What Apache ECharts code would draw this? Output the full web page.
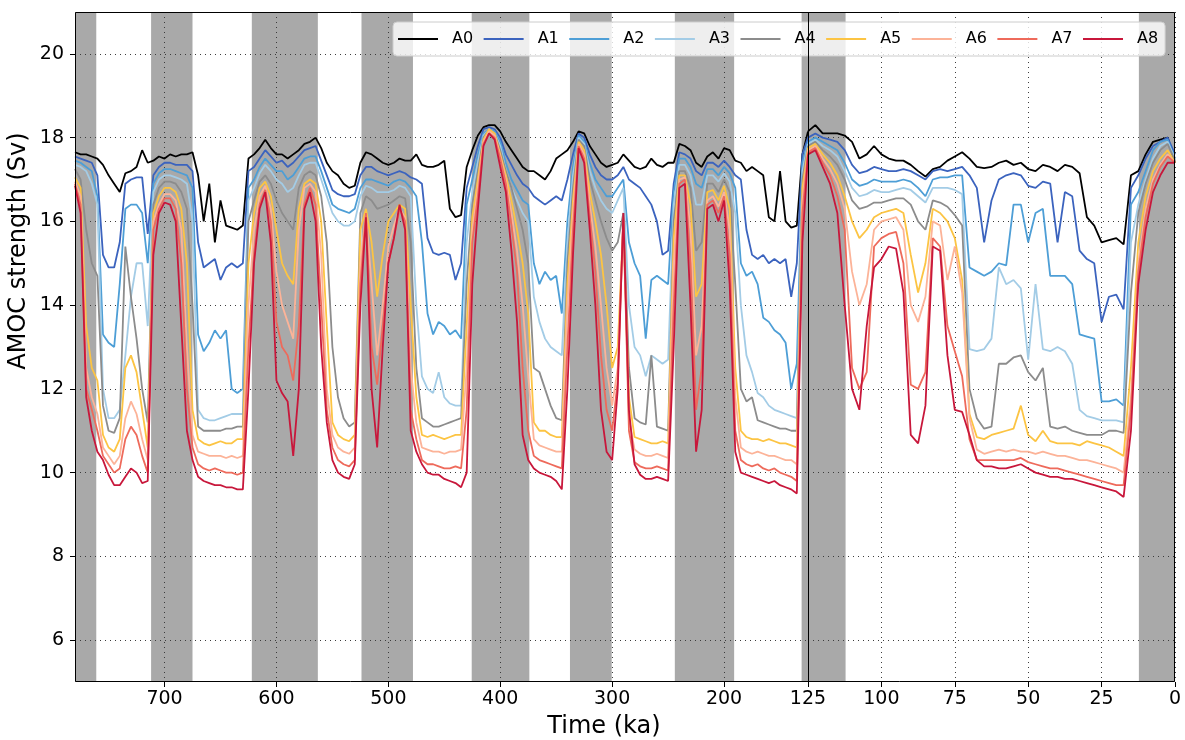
<!DOCTYPE html>
<html>
<head>
<meta charset="utf-8">
<script src="https://cdn.jsdelivr.net/npm/echarts@6/dist/echarts.min.js"></script>
<style>html,body{margin:0;padding:0;background:#fff}#c{width:1185px;height:740px}</style>
</head>
<body>
<div id="c"></div>
<script>
const seriesNames = ['A0','A1','A2','A3','A4','A5','A6','A7','A8'];
const seriesColors = ['#000000','#3b63be','#4d9ed6','#a3cce6','#8c8c8c','#fcc443','#fcb398','#ee6a5b','#c8173b'];

const leftTicks = [200,300,400,500,600,700];
const rightTicks = [0,25,50,75,100,125];
const yTicks = [6,8,10,12,14,16,18,20];

// grey bands (ka)
const leftBands = [[780,761],[712,675],[622,563],[524,478],[425.5,374],[337.7,300.4],[244,191],[130.7,125]];
const rightBands = [[125,112.2],[12.3,0]];

// time samples, 780 -> 125 ka (left, compressed part)
const leftTime = [780,775,770,765,760,755,750,745,740,735,730,725,720,715,
710,705,700,695,690,685,680,675,
670,665,660,655,650,645,640,635,630,625,
620,615,610,605,600,595,590,585,580,575,570,565,560,
555,550,545,540,535,530,525,
520,515,510,505,500,495,490,485,480,
475,470,465,460,455,450,445,440,435,430,
425,420,415,410,405,400,395,390,385,380,375,
370,365,360,355,350,345,340,
335,330,325,320,315,310,305,300,
295,290,285,280,275,270,265,260,255,250,
245,240,235,230,225,220,215,210,205,200,195,190,
185,180,175,170,165,160,155,150,145,140,135,130,
125];

// time samples, 125 -> 0 ka (right, expanded part)
const rightTime = [125,122.5,120,117.5,115,112.5,110,107.5,105,102.5,100,97.5,95,92.5,
90,87.5,85,82.5,80,77.5,75,72.5,70,67.5,65,62.5,60,57.5,55,52.5,50,47.5,45,42.5,40,
37.5,35,32.5,30,27.5,25,22.5,20,17.5,15,12.5,10,7.5,5,2.5,0];

const A0_left = [17.65,17.6,17.6,17.55,17.5,17.35,17.1,16.9,16.7,17.15,17.2,17.3,17.7,17.4,
17.45,17.55,17.5,17.6,17.55,17.6,17.6,17.65,
17.1,16.0,16.9,15.5,16.5,15.9,15.85,15.8,15.9,17.5,
17.6,17.75,17.95,17.75,17.6,17.6,17.5,17.6,17.7,17.85,17.9,18.0,17.75,
17.4,17.2,17.1,16.9,16.8,16.85,17.4,
17.65,17.6,17.5,17.4,17.35,17.4,17.5,17.45,17.45,
17.6,17.35,17.3,17.3,17.35,17.45,16.3,16.1,16.15,17.3,
17.7,18.05,18.25,18.3,18.3,18.15,17.9,17.7,17.5,17.3,17.2,
17.2,17.1,17.0,17.2,17.5,17.6,17.7,
17.9,18.15,18.1,17.8,17.6,17.4,17.3,17.35,
17.4,17.6,17.45,17.3,17.25,17.3,17.5,17.35,17.3,17.4,
17.4,17.85,17.8,17.7,17.4,17.3,17.55,17.65,17.5,17.75,17.7,17.45,
17.4,17.2,17.3,17.2,17.1,16.1,16.0,17.2,16.0,15.85,15.9,17.6,
18.15];
const A1_left = [17.55,17.5,17.45,17.4,17.1,15.2,14.9,14.9,15.5,16.9,17.0,17.05,17.05,15.7,
17.1,17.3,17.4,17.4,17.35,17.35,17.35,17.2,
15.5,14.9,15.0,15.1,14.6,14.9,15.0,14.9,15.0,17.2,
17.3,17.5,17.7,17.55,17.4,17.45,17.3,17.4,17.55,17.7,17.75,17.8,17.45,
17.1,16.75,16.65,16.6,16.6,16.65,17.1,
17.3,17.3,17.2,17.15,17.1,17.15,17.2,17.15,17.05,
17.0,16.9,15.6,15.25,15.2,15.25,15.2,14.6,15.0,16.8,
17.3,17.8,18.2,18.25,18.2,18.0,17.6,17.35,17.1,16.9,16.8,
16.6,16.5,16.4,16.5,16.6,16.5,17.0,
17.6,18.1,18.0,17.6,17.3,17.1,17.0,17.0,
17.1,17.3,17.0,16.9,16.8,16.6,16.4,16.0,15.2,15.3,
16.9,17.65,17.6,17.5,17.2,17.1,17.4,17.4,17.3,17.45,17.3,17.1,
17.0,15.8,15.2,15.1,15.2,15.0,15.1,15.0,15.1,14.2,15.0,17.6,
18.0];
const A2_left = [17.45,17.4,17.3,17.2,16.6,13.3,13.1,13.0,14.5,16.3,16.4,16.4,16.2,15.0,
16.9,17.15,17.25,17.25,17.2,17.15,17.1,16.8,
13.3,12.9,13.1,13.4,13.2,13.4,12.0,11.9,12.0,16.8,
17.0,17.3,17.5,17.35,17.2,17.2,17.0,17.1,17.3,17.5,17.55,17.55,17.2,
16.8,16.4,16.3,16.25,16.2,16.3,16.8,
17.0,17.0,16.95,16.9,16.85,16.95,17.0,16.95,16.8,
16.6,15.5,13.8,13.3,13.6,13.5,13.3,13.4,13.2,16.4,
17.0,17.6,18.1,18.2,18.15,17.9,17.4,17.0,16.75,16.5,16.4,
15.0,14.5,14.8,14.6,14.7,13.8,16.0,
17.3,18.05,17.9,17.4,17.0,16.8,16.6,16.6,
16.8,17.0,15.5,15.0,14.7,13.2,14.6,14.7,14.6,14.5,
16.7,17.5,17.5,17.3,16.9,16.8,17.25,17.25,17.1,17.3,17.15,16.8,
15.0,14.7,14.8,14.5,13.7,13.6,13.4,13.3,13.1,12.0,12.6,17.4,
17.9];
const A3_left = [17.35,17.3,17.2,16.9,16.4,12.0,11.3,11.3,11.5,12.8,14.2,15.0,15.0,13.5,
16.7,17.0,17.1,17.1,17.05,17.0,16.9,16.0,
11.5,11.3,11.25,11.25,11.3,11.35,11.4,11.4,11.4,16.5,
16.8,17.15,17.35,17.2,17.0,16.9,16.7,16.8,17.1,17.35,17.4,17.4,17.0,
16.6,16.2,16.0,15.9,15.9,16.0,16.6,
16.85,16.8,16.7,16.7,16.7,16.75,16.85,16.8,16.6,
14.0,12.3,12.0,11.9,12.4,11.8,11.65,11.6,11.6,15.5,
16.7,17.4,18.05,18.2,18.1,17.8,17.2,16.8,16.5,16.2,16.0,
14.2,13.6,13.2,13.0,12.9,12.8,15.5,
17.1,18.0,17.85,17.2,16.8,16.5,16.3,16.2,
16.5,16.8,14.0,13.0,12.8,12.3,12.8,12.7,12.6,12.7,
16.4,17.35,17.35,17.1,16.4,16.4,17.1,17.1,16.95,17.15,16.95,16.2,
14.0,12.8,12.4,11.9,11.8,11.6,11.5,11.45,11.4,11.35,11.3,17.2,
17.85];
const A4_left = [17.25,17.0,15.8,15.0,14.7,11.6,11.0,10.95,11.3,15.4,14.2,13.2,12.0,11.2,
16.4,16.8,16.95,16.95,16.9,16.7,16.3,14.0,
11.1,11.0,11.0,11.0,11.0,11.05,11.05,11.1,11.1,16.0,
16.5,16.95,17.1,16.9,16.5,16.2,16.0,15.8,16.8,17.1,17.2,17.1,16.6,
15.5,13.0,11.8,11.3,11.1,11.2,16.2,
16.6,16.5,16.3,16.35,16.4,16.5,16.6,16.55,15.5,
12.5,11.3,11.2,11.1,11.1,11.15,11.2,11.25,11.3,14.5,
16.4,17.2,18.0,18.2,18.1,17.7,17.2,16.8,16.3,15.8,15.0,
12.5,12.4,12.0,11.6,11.3,11.25,15.0,
16.8,17.95,17.8,17.0,16.5,16.0,15.6,15.3,
15.5,16.2,12.5,11.3,11.2,11.15,12.8,11.1,11.05,11.0,
16.0,17.2,17.2,16.8,15.3,15.5,16.9,16.9,16.7,17.0,16.7,14.5,
12.0,11.7,11.8,11.25,11.2,11.15,11.1,11.05,11.05,11.0,11.0,17.0,
17.8];
const A5_left = [17.05,16.8,13.5,12.5,12.2,10.9,10.6,10.5,10.8,12.5,12.8,12.4,11.5,10.6,
16.2,16.6,16.8,16.8,16.7,16.3,15.0,11.5,
10.8,10.7,10.65,10.7,10.75,10.7,10.7,10.8,10.8,15.0,
16.2,16.8,16.95,16.6,15.8,15.0,14.7,14.5,16.3,16.9,17.0,16.9,16.0,
13.5,11.2,10.9,10.8,10.75,10.9,15.8,
16.3,15.5,14.2,15.2,16.0,16.2,16.4,16.3,14.0,
11.8,10.9,10.85,10.9,10.85,10.8,10.85,10.9,10.9,13.5,
16.1,17.0,17.95,18.2,18.1,17.6,17.1,16.5,15.8,15.0,13.8,
11.2,11.0,11.0,10.9,10.85,10.85,14.5,
16.5,17.9,17.7,16.7,16.0,15.2,14.0,12.5,
13.0,16.0,11.8,10.85,10.8,10.75,10.7,10.7,10.75,10.7,
15.6,17.1,17.1,16.4,14.2,14.5,16.7,16.75,16.5,16.85,16.3,12.5,
11.0,10.85,10.8,10.8,10.75,10.8,10.75,10.7,10.7,10.65,10.6,16.8,
17.75];
const A6_left = [16.95,16.6,12.5,11.8,11.4,10.6,10.4,10.2,10.4,11.3,11.7,11.4,10.8,10.3,
16.0,16.4,16.65,16.65,16.5,15.8,13.0,10.9,
10.5,10.45,10.4,10.4,10.4,10.35,10.4,10.35,10.4,14.0,
15.8,16.6,16.85,16.3,14.8,14.0,13.6,13.2,15.8,16.8,16.9,16.7,15.2,
12.0,10.9,10.6,10.5,10.45,10.6,15.0,
16.2,14.5,12.8,14.0,15.4,15.9,16.3,16.1,12.5,
11.2,10.6,10.55,10.5,10.5,10.45,10.5,10.5,10.55,12.5,
15.8,16.8,17.9,18.15,18.05,17.55,17.0,16.2,15.3,14.0,12.3,
10.8,10.65,10.6,10.55,10.5,10.5,14.0,
16.2,17.85,17.6,16.4,15.4,14.0,12.5,11.6,
12.5,16.0,11.3,10.55,10.45,10.4,10.4,10.45,10.4,10.35,
15.0,17.0,17.05,15.8,12.8,13.5,16.5,16.6,16.35,16.7,15.8,11.8,
10.6,10.5,10.45,10.5,10.45,10.4,10.4,10.35,10.3,10.3,10.2,16.5,
17.7];
const A7_left = [16.9,16.4,12.0,11.5,11.0,10.4,10.2,10.0,10.1,10.8,11.1,10.9,10.4,10.0,
15.8,16.3,16.55,16.55,16.3,15.0,12.0,10.6,
10.2,10.1,10.05,10.1,10.05,10.0,10.0,9.95,10.0,13.0,
15.2,16.4,16.75,16.0,13.6,13.0,12.8,12.2,13.5,16.4,16.8,16.4,14.0,
11.5,10.6,10.3,10.2,10.15,10.3,14.5,
16.2,13.0,12.1,13.5,15.0,15.6,16.3,16.0,11.5,
10.8,10.3,10.2,10.2,10.15,10.1,10.1,10.15,10.1,11.5,
15.5,16.6,17.85,18.1,18.0,17.5,16.9,15.9,14.8,12.5,11.0,
10.4,10.3,10.25,10.2,10.15,10.1,13.0,
15.8,17.8,17.5,16.1,14.8,12.8,11.5,11.0,
12.2,16.1,11.0,10.25,10.15,10.1,10.1,10.15,10.1,10.05,
14.0,16.9,17.0,15.0,11.5,12.5,16.4,16.5,16.2,16.6,15.2,11.0,
10.3,10.2,10.15,10.2,10.1,10.05,10.1,10.0,9.95,9.9,9.8,16.2,
17.65];
const A8_left = [16.85,16.2,11.8,11.0,10.5,10.3,9.95,9.7,9.7,9.9,10.1,10.0,9.75,9.8,
15.2,16.2,16.45,16.4,16.0,13.5,11.0,10.3,
9.9,9.8,9.75,9.7,9.7,9.65,9.65,9.6,9.6,12.0,
15.0,16.3,16.7,15.5,12.2,11.9,11.7,10.4,12.0,16.3,16.7,16.0,13.0,
11.2,10.3,10.0,9.9,9.85,10.2,14.0,
16.1,12.0,10.6,13.0,15.0,15.6,16.4,15.8,11.0,
10.5,10.2,10.0,9.95,9.95,9.85,9.8,9.75,9.65,10.0,
14.5,16.3,17.8,18.1,17.95,17.3,16.7,15.3,13.6,10.9,10.3,
10.1,10.0,9.95,9.9,9.8,9.6,12.0,
15.2,17.75,17.4,15.8,14.0,11.5,10.5,10.3,
12.0,16.2,11.5,10.2,9.95,9.85,9.85,9.9,9.85,9.8,
13.0,16.8,16.9,14.0,10.5,11.5,16.3,16.4,16.0,16.5,14.5,10.5,
10.0,9.95,9.9,9.85,9.8,9.75,9.8,9.7,9.65,9.6,9.5,15.5,
17.6];

const A0_right = [18.15,18.3,18.1,18.1,18.1,18.05,17.9,17.5,17.6,17.8,17.6,17.5,17.45,17.45,
17.35,17.2,17.07,17.25,17.3,17.45,17.55,17.65,17.5,17.3,17.27,17.3,17.4,17.45,17.35,17.4,17.25,17.2,17.35,17.3,17.2,
17.35,17.3,17.15,16.1,15.9,15.5,15.55,15.6,15.45,17.1,17.2,17.6,17.9,17.95,18.0,17.4];
const A1_right = [18.0,18.1,18.0,17.95,17.9,17.7,17.35,17.15,17.2,17.3,17.25,17.2,17.2,17.25,
17.2,17.1,17.0,17.2,17.25,17.2,17.25,17.3,17.1,16.8,15.5,16.5,17.0,17.1,17.15,17.1,16.85,16.8,16.95,16.9,15.5,
16.7,16.6,15.3,15.1,15.0,13.6,14.2,14.25,13.9,16.8,17.1,17.5,17.8,17.9,18.0,17.6];
const A2_right = [17.9,18.0,17.9,17.8,17.7,17.4,17.0,16.85,16.9,17.0,16.95,16.95,16.95,17.0,
16.95,16.8,16.6,17.0,17.05,17.05,17.1,17.1,14.9,14.8,14.7,14.8,15.0,14.95,16.4,16.4,15.5,16.2,16.3,14.7,14.7,
14.7,14.5,13.3,13.25,13.2,11.7,11.7,11.75,11.6,16.4,16.7,17.2,17.7,17.9,17.95,17.5];
const A3_right = [17.85,17.95,17.8,17.7,17.55,17.2,16.8,16.6,16.65,16.75,16.7,16.7,16.75,16.8,
16.75,16.6,16.45,16.8,16.8,16.8,16.75,16.65,12.95,12.9,12.95,13.2,14.9,14.5,14.6,14.4,12.7,14.5,12.95,12.9,13.0,
12.9,12.6,11.5,11.35,11.3,11.25,11.25,11.25,11.2,15.5,16.4,17.0,17.5,17.8,17.9,17.5];
const A4_right = [17.8,17.9,17.7,17.55,17.35,17.0,16.5,16.3,16.35,16.45,16.45,16.5,16.55,16.55,
16.4,16.0,15.8,16.5,16.45,16.35,16.15,15.9,12.0,11.3,11.05,11.1,12.6,12.6,12.75,12.8,12.4,12.2,12.5,11.1,11.05,
11.1,11.0,10.95,10.9,10.9,10.9,11.0,11.0,10.95,14.3,16.2,16.9,17.4,17.7,17.85,17.45];
const A5_right = [17.75,17.85,17.6,17.4,17.1,16.6,16.0,15.6,15.8,16.1,16.2,16.25,16.3,16.2,
15.2,14.3,15.0,16.3,16.2,16.0,15.6,14.6,11.4,10.85,10.8,10.9,10.95,11.0,11.05,11.6,10.9,10.75,11.0,10.75,10.7,
10.7,10.7,10.65,10.75,10.7,10.65,10.6,10.5,10.4,12.5,15.5,16.6,17.2,17.5,17.7,17.4];
const A6_right = [17.7,17.8,17.5,17.25,16.9,16.3,14.8,14.0,14.5,15.8,16.0,16.05,16.1,15.8,
14.0,13.6,14.2,16.0,15.9,14.6,15.4,14.3,11.3,10.55,10.45,10.5,10.55,10.5,10.55,10.5,10.5,10.45,10.5,10.45,10.4,
10.4,10.35,10.3,10.3,10.25,10.2,10.15,10.1,10.0,11.8,15.0,16.3,17.0,17.35,17.6,17.4];
const A7_right = [17.65,17.75,17.4,17.1,16.6,15.8,12.5,12.0,12.4,15.4,15.6,15.7,15.75,15.0,
12.1,12.0,12.4,15.6,15.4,13.5,12.9,12.3,10.8,10.3,10.3,10.3,10.3,10.3,10.3,10.35,10.25,10.2,10.15,10.1,10.1,
10.05,10.0,9.95,9.9,9.85,9.8,9.75,9.7,9.7,11.5,14.8,16.1,16.9,17.3,17.55,17.4];
const A8_right = [17.6,17.7,17.3,16.9,16.2,14.0,12.0,11.5,13.5,14.9,15.1,15.4,15.35,14.3,
10.9,10.7,11.6,15.4,15.3,12.8,11.5,11.45,10.9,10.3,10.15,10.15,10.1,10.1,10.15,10.2,10.1,10.0,9.95,9.9,9.9,
9.85,9.85,9.8,9.75,9.7,9.65,9.6,9.55,9.42,11.0,14.5,15.8,16.7,17.1,17.4,17.4];

const leftValues = [A0_left,A1_left,A2_left,A3_left,A4_left,A5_left,A6_left,A7_left,A8_left];
const rightValues = [A0_right,A1_right,A2_right,A3_right,A4_right,A5_right,A6_right,A7_right,A8_right];

const FONT = 'DejaVu Sans';
const gridLine = {show:true, lineStyle:{color:'#3c3c3c', width:1, type:[1,4]}};

const series = [];
series.push({type:'line', xAxisIndex:0, yAxisIndex:0, data:[[780,5],[125,5]], symbol:'none',
  lineStyle:{opacity:0}, silent:true, z:1,
  markArea:{silent:true, z:1, itemStyle:{color:'#a9a9a9'}, data:leftBands.map(b=>[{xAxis:b[0]},{xAxis:b[1]}])}});
series.push({type:'line', xAxisIndex:1, yAxisIndex:1, data:[[125,5],[0,5]], symbol:'none',
  lineStyle:{opacity:0}, silent:true, z:1,
  markArea:{silent:true, z:1, itemStyle:{color:'#a9a9a9'}, data:rightBands.map(b=>[{xAxis:b[0]},{xAxis:b[1]}])}});
seriesNames.forEach((n,i)=>{
  series.push({name:n, type:'line', xAxisIndex:0, yAxisIndex:0, symbol:'none', z:5,
    data:leftTime.map((t,j)=>[t,leftValues[i][j]]),
    lineStyle:{color:seriesColors[i], width:1.8}, itemStyle:{color:seriesColors[i]}});
  series.push({name:n, type:'line', xAxisIndex:1, yAxisIndex:1, symbol:'none', z:5,
    data:rightTime.map((t,j)=>[t,rightValues[i][j]]),
    lineStyle:{color:seriesColors[i], width:1.8}, itemStyle:{color:seriesColors[i]}});
});

const chart = echarts.init(document.getElementById('c'), null, {renderer:'canvas'});
chart.setOption({
  animation:false,
  backgroundColor:'#ffffff',
  grid:[
    {left:75, top:12, width:733, height:670},
    {left:808, top:12, width:367, height:670}
  ],
  xAxis:[
    {type:'value', gridIndex:0, min:125, max:780, inverse:true, z:3,
     axisLine:{show:false},
     axisTick:{show:true, customValues:leftTicks, length:5, lineStyle:{color:'#000'}},
     axisLabel:{customValues:leftTicks, color:'#000', fontSize:19, margin:8, fontFamily:FONT},
     splitLine:gridLine},
    {type:'value', gridIndex:1, min:0, max:125, inverse:true, z:3,
     axisLine:{show:false},
     axisTick:{show:true, customValues:rightTicks, length:5, lineStyle:{color:'#000'}},
     axisLabel:{customValues:rightTicks, color:'#000', fontSize:19, margin:8, fontFamily:FONT},
     splitLine:gridLine}
  ],
  yAxis:[
    {type:'value', gridIndex:0, min:5, max:21, z:3,
     axisLine:{show:false},
     axisTick:{show:true, customValues:yTicks, length:5, lineStyle:{color:'#000'}},
     axisLabel:{customValues:yTicks, color:'#000', fontSize:19, margin:11, fontFamily:FONT},
     splitLine:gridLine},
    {type:'value', gridIndex:1, min:5, max:21, z:3,
     axisLine:{show:false},
     axisTick:{show:false, customValues:yTicks},
     axisLabel:{show:false, customValues:yTicks},
     splitLine:gridLine}
  ],
  legend:{data:seriesNames, left:393, top:22, orient:'horizontal', icon:'rect',
    itemWidth:40, itemHeight:2, itemGap:10.5, padding:[9,7,9,5],
    textStyle:{fontSize:16, color:'#000', fontFamily:FONT, padding:[0,0,0,9]},
    backgroundColor:'rgba(255,255,255,0.8)', borderColor:'#cccccc', borderWidth:1, borderRadius:4},
  graphic:[
    {type:'rect', silent:true, z:100, shape:{x:75.5, y:12.5, width:1099, height:669},
     style:{fill:'rgba(0,0,0,0)', stroke:'#000', lineWidth:1}},
    {type:'line', silent:true, z:100, shape:{x1:808.5, y1:12, x2:808.5, y2:682},
     style:{stroke:'#000', lineWidth:1}},
    {type:'text', silent:true, z:100, x:604, y:727,
     style:{text:'Time (ka)', fontSize:24, fill:'#000', fontFamily:FONT, align:'center', verticalAlign:'middle'}},
    {type:'text', silent:true, z:100, x:18.5, y:251, rotation:Math.PI/2,
     style:{text:'AMOC strength (Sv)', fontSize:24, fill:'#000', fontFamily:FONT, align:'center', verticalAlign:'middle'}}
  ],
  series:series
});
</script>
</body>
</html>
